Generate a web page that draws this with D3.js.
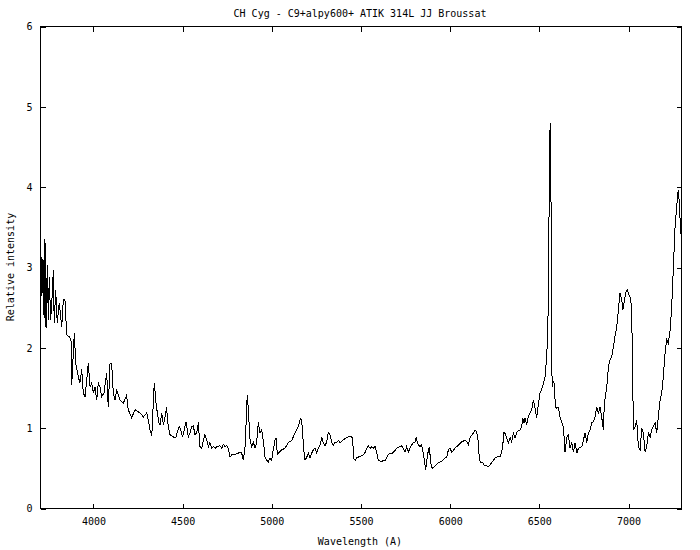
<!DOCTYPE html>
<html><head><meta charset="utf-8">
<script src="https://cdn.jsdelivr.net/npm/d3@7"></script>
<style>body{margin:0;background:#fff}svg{display:block}</style>
</head><body>
<svg id="chart" width="700" height="550"></svg>
<script>
const chartTitle = "CH Cyg - C9+alpy600+ ATIK 314L JJ Broussat";
const xLabel = "Wavelength (A)";
const yLabel = "Relative intensity";
const xTicks = [4000, 4500, 5000, 5500, 6000, 6500, 7000];
const yTicks = [0, 1, 2, 3, 4, 5, 6];
const xDomain = [3703, 7297];
const yDomain = [0, 6];

const wavelength = [3703,3710,3711,3717,3723,3728,3734,3741,3747,3752,3760,3767,3775,3780,3788,3797,3808,3822,3831,3840,3850,3864,3874,3878,3887,3893,3900,3915,3924,3934,3943,3953,3962,3971,3981,3990,3999,4009,4018,4027,4037,4046,4059,4074,4083,4093,4102,4111,4121,4130,4149,4167,4186,4195,4214,4233,4261,4280,4299,4307,4317,4327,4336,4341,4351,4358,4367,4373,4383,4392,4401,4411,4414,4420,4429,4448,4463,4470,4481,4489,4500,4509,4519,4532,4541,4551,4560,4569,4579,4588,4597,4607,4616,4625,4635,4644,4653,4663,4672,4682,4691,4710,4719,4728,4738,4747,4756,4766,4775,4784,4803,4822,4831,4840,4850,4855,4859,4863,4868,4878,4887,4896,4906,4915,4924,4934,4943,4952,4962,4971,4980,4990,4999,5008,5018,5024,5031,5042,5056,5074,5093,5112,5130,5149,5162,5171,5177,5186,5196,5205,5214,5224,5233,5242,5252,5261,5270,5280,5289,5298,5308,5317,5326,5336,5345,5354,5364,5373,5383,5392,5411,5429,5439,5454,5457,5467,5476,5495,5513,5523,5532,5541,5551,5560,5569,5579,5588,5597,5607,5616,5625,5635,5644,5653,5663,5672,5681,5691,5700,5719,5728,5737,5747,5756,5765,5775,5784,5793,5803,5809,5816,5821,5831,5840,5846,5855,5863,5869,5878,5883,5887,5893,5900,5915,5934,5953,5971,5981,5990,5999,6009,6027,6046,6065,6083,6093,6102,6111,6130,6139,6149,6158,6164,6172,6183,6192,6201,6214,6233,6252,6270,6280,6289,6298,6302,6311,6326,6336,6345,6354,6364,6373,6392,6401,6407,6414,6420,6429,6438,6448,6457,6466,6476,6485,6494,6504,6513,6523,6532,6541,6547,6553,6556,6560,6562,6564,6566,6567,6573,6578,6584,6590,6597,6606,6616,6625,6635,6644,6654,6663,6672,6682,6691,6700,6710,6719,6738,6747,6756,6766,6775,6784,6794,6803,6812,6822,6831,6840,6850,6859,6863,6869,6878,6887,6896,6906,6915,6924,6934,6943,6952,6962,6968,6975,6986,6994,7003,7013,7018,7024,7027,7037,7046,7055,7065,7074,7083,7093,7102,7111,7121,7130,7139,7149,7158,7167,7177,7186,7195,7205,7214,7223,7233,7242,7251,7261,7270,7279,7285,7289,7292,7296];

const intensity = [2.66,3.13,2.64,3.10,2.37,3.35,2.25,3.03,2.35,2.88,2.35,2.60,2.97,2.31,2.72,2.31,2.56,2.26,2.60,2.60,2.16,2.14,2.10,1.54,1.94,2.19,1.81,1.64,1.56,1.73,1.44,1.39,1.60,1.81,1.51,1.56,1.44,1.51,1.35,1.56,1.51,1.39,1.44,1.69,1.26,1.81,1.81,1.44,1.35,1.48,1.35,1.31,1.41,1.23,1.13,1.23,1.19,1.14,1.19,1.10,0.98,0.90,1.35,1.56,1.31,1.19,1.07,1.04,1.19,1.04,1.14,1.26,1.10,1.02,0.92,0.89,0.89,0.95,1.02,0.98,0.89,0.98,1.08,0.89,0.94,1.02,1.03,0.92,0.94,1.07,0.77,0.75,0.85,0.92,0.85,0.77,0.82,0.75,0.77,0.75,0.77,0.78,0.75,0.80,0.77,0.79,0.75,0.64,0.67,0.67,0.68,0.70,0.69,0.60,0.77,1.02,1.31,1.41,1.23,0.85,0.77,0.83,0.75,0.82,1.07,0.94,0.98,0.85,0.64,0.60,0.58,0.63,0.60,0.73,0.85,0.88,0.67,0.70,0.73,0.75,0.82,0.85,0.94,1.02,1.13,1.02,0.77,0.60,0.64,0.69,0.63,0.69,0.73,0.75,0.69,0.75,0.79,0.88,0.82,0.78,0.83,0.95,0.92,0.82,0.79,0.83,0.82,0.85,0.82,0.84,0.87,0.89,0.90,0.88,0.63,0.60,0.63,0.65,0.67,0.70,0.75,0.78,0.75,0.77,0.75,0.77,0.70,0.60,0.59,0.58,0.60,0.59,0.63,0.67,0.69,0.68,0.70,0.72,0.75,0.77,0.78,0.75,0.70,0.77,0.70,0.75,0.79,0.82,0.83,0.88,0.83,0.79,0.77,0.79,0.73,0.60,0.48,0.60,0.73,0.77,0.67,0.54,0.50,0.53,0.57,0.59,0.63,0.64,0.73,0.75,0.70,0.75,0.79,0.83,0.85,0.83,0.79,0.88,0.94,0.98,0.95,0.82,0.60,0.57,0.57,0.53,0.54,0.52,0.57,0.63,0.65,0.64,0.70,0.85,0.95,0.92,0.82,0.88,0.83,0.94,0.88,0.95,0.98,1.02,1.12,1.07,1.13,1.04,1.14,1.19,1.23,1.35,1.25,1.13,1.29,1.44,1.48,1.56,1.64,1.89,2.19,3.01,4.51,4.72,4.80,4.22,3.63,1.94,1.51,1.58,1.56,1.26,1.25,1.26,1.14,1.07,1.02,0.70,0.89,0.92,0.75,0.82,0.70,0.82,0.69,0.75,0.77,0.85,0.94,0.82,0.94,0.98,1.07,1.08,1.14,1.26,1.19,1.26,1.13,0.98,1.23,1.39,1.51,1.76,1.85,1.89,2.01,2.14,2.26,2.47,2.68,2.60,2.47,2.56,2.70,2.72,2.66,2.60,2.39,1.56,0.98,1.02,1.10,0.77,0.73,1.00,0.94,0.70,0.77,0.94,0.89,0.98,1.02,1.07,0.94,1.14,1.35,1.44,1.64,1.94,2.10,2.06,2.22,2.51,2.97,3.51,3.76,3.97,3.80,3.60,3.43,3.40];

const svg = d3.select("#chart");
const plotLeft = 40.5, plotRight = 681.5, plotTop = 26.5, plotBottom = 508.5;
const font = "'DejaVu Sans Mono', monospace";

const x = d3.scaleLinear().domain(xDomain).range([plotLeft, plotRight]);
const y = d3.scaleLinear().domain(yDomain).range([plotBottom, plotTop]);

function styleAxis(g) {
  g.select(".domain").remove();
  g.selectAll("line").attr("stroke", "#000").attr("stroke-width", 1).attr("shape-rendering", "crispEdges");
  g.selectAll("text").attr("font-family", font).attr("font-size", 10).attr("fill", "#000");
}

svg.append("g").attr("transform", `translate(0,${plotBottom})`)
  .call(d3.axisBottom(x).tickValues(xTicks).tickSizeInner(-5).tickSizeOuter(0).tickPadding(9).tickFormat(d3.format("d")))
  .call(styleAxis);
svg.append("g").attr("transform", `translate(0,${plotTop})`)
  .call(d3.axisTop(x).tickValues(xTicks).tickSizeInner(-5).tickSizeOuter(0).tickFormat(""))
  .call(styleAxis);
svg.append("g").attr("transform", `translate(${plotLeft},0)`)
  .call(d3.axisLeft(y).tickValues(yTicks).tickSizeInner(-5).tickSizeOuter(0).tickPadding(8).tickFormat(d3.format("d")))
  .call(styleAxis);
svg.append("g").attr("transform", `translate(${plotRight},0)`)
  .call(d3.axisRight(y).tickValues(yTicks).tickSizeInner(-5).tickSizeOuter(0).tickFormat(""))
  .call(styleAxis);

svg.append("rect").attr("x", plotLeft).attr("y", plotTop).attr("width", plotRight - plotLeft).attr("height", plotBottom - plotTop)
  .attr("fill", "none").attr("stroke", "#000").attr("stroke-width", 1).attr("shape-rendering", "crispEdges");

const data = wavelength.map((w, i) => ({w, v: intensity[i]}));
svg.append("path").datum(data)
  .attr("fill", "none").attr("stroke", "#000").attr("stroke-width", 1)
  .attr("shape-rendering", "crispEdges")
  .attr("d", d3.line().x(d => x(d.w)).y(d => y(d.v)));

svg.append("text").attr("x", 360).attr("y", 17).attr("text-anchor", "middle")
  .attr("font-family", font).attr("font-size", 10).text(chartTitle);
svg.append("text").attr("x", 360).attr("y", 545).attr("text-anchor", "middle")
  .attr("font-family", font).attr("font-size", 10).text(xLabel);
svg.append("text").attr("transform", "translate(14,267) rotate(-90)").attr("text-anchor", "middle")
  .attr("font-family", font).attr("font-size", 10).text(yLabel);
</script>
</body></html>
